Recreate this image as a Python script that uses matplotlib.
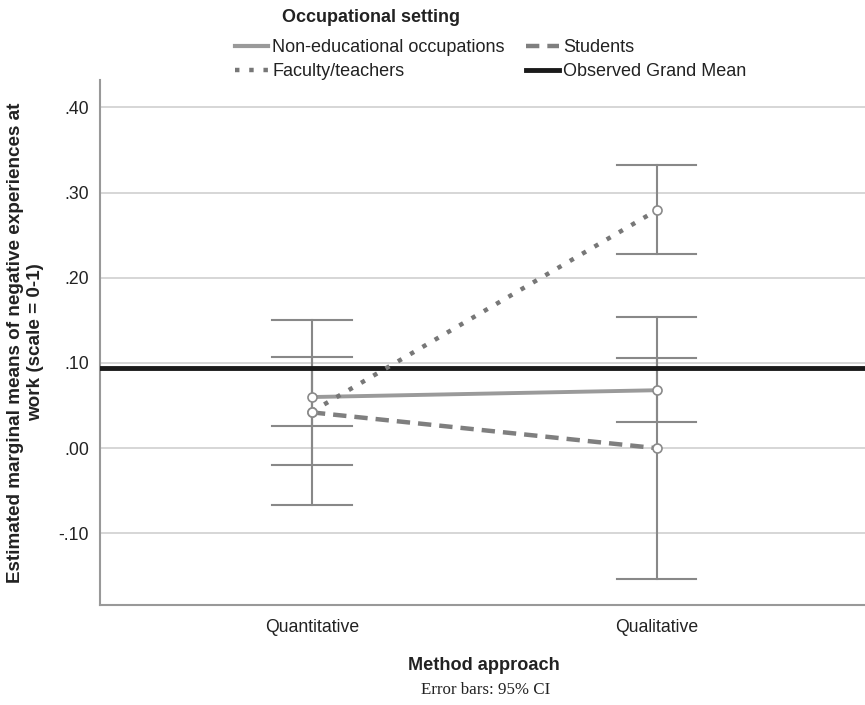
"""Estimated marginal means of negative experiences at work by method approach."""

import matplotlib.pyplot as plt
from matplotlib.lines import Line2D

plt.rcParams['font.family'] = ['Liberation Sans', 'DejaVu Sans']

methods = ['Quantitative', 'Qualitative']
series_names = ['Non-educational occupations', 'Students', 'Faculty/teachers']
means = {
    'Non-educational occupations': [0.060, 0.068],
    'Students': [0.042, 0.000],
    'Faculty/teachers': [0.043, 0.279],
}
ci_low = {
    'Non-educational occupations': [0.026, 0.031],
    'Students': [-0.067, -0.154],
    'Faculty/teachers': [-0.020, 0.228],
}
ci_high = {
    'Non-educational occupations': [0.094, 0.106],
    'Students': [0.150, 0.154],
    'Faculty/teachers': [0.107, 0.332],
}
grand_mean = 0.094
yticks = [-0.10, 0.00, 0.10, 0.20, 0.30, 0.40]
ytick_labels = ['-.10', '.00', '.10', '.20', '.30', '.40']

styles = {
    'Non-educational occupations': dict(color='#9a9a9a', linestyle='-', lw=2.8),
    'Students': dict(color='#7f7f7f', linestyle=(0, (3, 1.8)), lw=3.2),
    'Faculty/teachers': dict(color='#777777', linestyle=(0, (1, 2.2)), lw=3.2),
}

fig = plt.figure(figsize=(8.65, 7.05), dpi=100)
ax = fig.add_axes([100 / 865, 1 - 605 / 705, 765 / 865, 525 / 705])

x = list(range(len(methods)))

# grid lines
for t in yticks:
    ax.axhline(t, color='#d0d0d0', lw=1.2, zorder=0)

# error bars
for name in series_names:
    for i in x:
        lo, hi = ci_low[name][i], ci_high[name][i]
        ax.plot([i, i], [lo, hi], color='#888888', lw=1.5, zorder=2)
        for v in (lo, hi):
            ax.plot([i - 0.115, i + 0.115], [v, v], color='#888888', lw=1.5, zorder=2)

ax.axhline(grand_mean, color='#1a1a1a', lw=3.5, zorder=3)

for name in series_names:
    st = styles[name]
    ax.plot(x, means[name], color=st['color'], linestyle=st['linestyle'],
            lw=st['lw'], zorder=4)
    ax.plot(x, means[name], linestyle='none', marker='o', ms=6.5,
            markerfacecolor='white', markeredgecolor='#8a8a8a', mew=1.2, zorder=5)

ax.set_xlim(-0.615, 1.605)
ax.set_ylim(-0.184, 0.432)
ax.set_xticks(x)
ax.set_xticklabels(methods, fontsize=12.7, color='#222222')
ax.set_yticks(yticks)
ax.set_yticklabels(ytick_labels, fontsize=12.7, color='#222222')
ax.tick_params(length=0, pad=8)
ax.tick_params(axis='x', pad=10)
for side in ['top', 'right']:
    ax.spines[side].set_visible(False)
for side in ['left', 'bottom']:
    ax.spines[side].set_color('#999999')
    ax.spines[side].set_linewidth(1.5)

ax.set_ylabel('Estimated marginal means of negative experiences at\nwork (scale = 0-1)',
              fontsize=13.6, fontweight='bold', color='#222222', labelpad=10,
              linespacing=1.3)

fig.text(484 / 865, 1 - 665 / 705, 'Method approach', ha='center', va='center',
         fontsize=13.1, fontweight='bold', color='#222222')
fig.text(486 / 865, 1 - 690 / 705, 'Error bars: 95% CI', ha='center', va='center',
         fontsize=12.2, family=['Liberation Serif', 'DejaVu Serif'], color='#222222')

# legend
fig.text(371 / 865, 1 - 18 / 705, 'Occupational setting', ha='center', va='center',
         fontsize=13, fontweight='bold', color='#222222')
handles = [
    Line2D([], [], color=styles['Non-educational occupations']['color'], lw=3),
    Line2D([], [], color=styles['Faculty/teachers']['color'], lw=3.2,
           linestyle=(0, (1, 2.2))),
    Line2D([], [], color=styles['Students']['color'], lw=3.2,
           linestyle=(0, (3, 1.8))),
    Line2D([], [], color='#1a1a1a', lw=3.5),
]
labels = ['Non-educational occupations', 'Faculty/teachers', 'Students',
          'Observed Grand Mean']
leg = fig.legend(handles, labels, ncol=2, loc='upper left',
                 bbox_to_anchor=(235 / 865, 1 - 39 / 705), frameon=False,
                 fontsize=13, handlelength=1.83, handletextpad=0.22,
                 columnspacing=1.2, labelspacing=0.38, borderaxespad=0,
                 borderpad=0)
for t in leg.get_texts():
    t.set_color('#222222')

fig.savefig('out.png', dpi=100)
